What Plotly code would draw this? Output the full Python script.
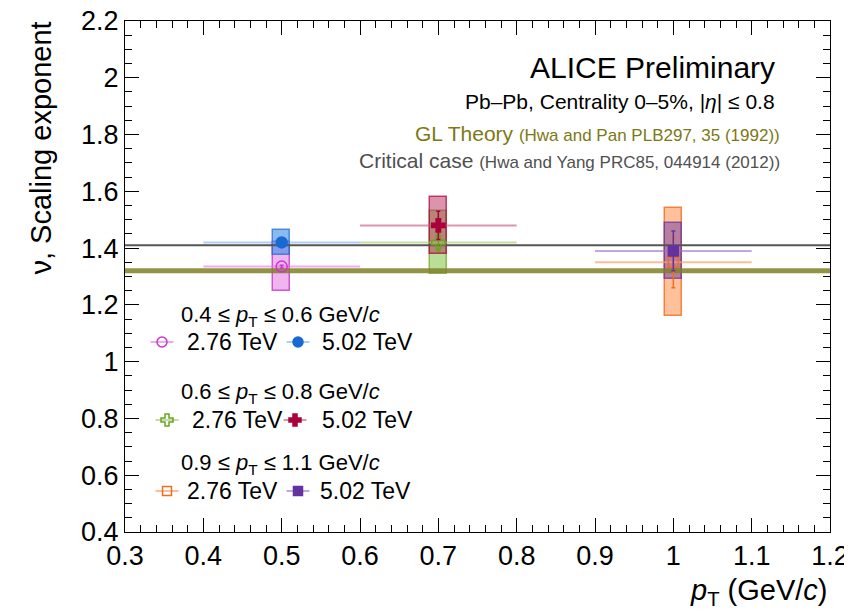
import plotly.graph_objects as go

# ---------------- data ----------------
pt_centers = [0.5, 0.5, 0.7, 0.7, 1.0, 1.0]
pt_halfwidth = [0.1, 0.1, 0.1, 0.1, 0.1, 0.1]
nu_values = [1.335, 1.42, 1.42, 1.48, 1.35, 1.39]
stat_errors = [0.005, 0.005, 0.03, 0.05, 0.09, 0.07]
sys_errors = [0.085, 0.045, 0.11, 0.10, 0.19, 0.10]
energies = ["2.76 TeV", "5.02 TeV", "2.76 TeV", "5.02 TeV", "2.76 TeV", "5.02 TeV"]
pt_bins = ["0.4 ≤ <i>p</i><sub>T</sub> ≤ 0.6 GeV/<i>c</i>",
           "0.6 ≤ <i>p</i><sub>T</sub> ≤ 0.8 GeV/<i>c</i>",
           "0.9 ≤ <i>p</i><sub>T</sub> ≤ 1.1 GeV/<i>c</i>"]
gl_theory_nu = 1.32
critical_nu = 1.41
x_range = [0.3, 1.2]
y_range = [0.4, 2.2]
x_ticks = [0.3, 0.4, 0.5, 0.6, 0.7, 0.8, 0.9, 1.0, 1.1, 1.2]
x_ticklabels = ["0.3", "0.4", "0.5", "0.6", "0.7", "0.8", "0.9", "1", "1.1", "1.2"]
y_ticks = [0.4, 0.6, 0.8, 1.0, 1.2, 1.4, 1.6, 1.8, 2.0, 2.2]
y_ticklabels = ["0.4", "0.6", "0.8", "1", "1.2", "1.4", "1.6", "1.8", "2", "2.2"]

# ---------------- style ----------------
FONT = "Liberation Sans, Arial, Helvetica, sans-serif"
line_cols = ["rgb(204,51,204)", "rgb(25,105,210)", "rgb(105,165,35)",
             "rgb(170,0,60)", "rgb(240,110,30)", "rgb(100,50,160)"]
fill_cols = ["rgba(225,120,225,0.55)", "rgba(60,140,230,0.6)", "rgba(140,200,80,0.6)",
             "rgba(185,40,90,0.5)", "rgba(255,150,90,0.6)", "rgba(110,60,165,0.5)"]
edge_cols = ["rgba(204,51,204,0.8)", "rgba(25,105,210,0.7)", "rgba(105,165,35,0.7)",
             "rgba(170,0,60,0.7)", "rgba(240,110,30,0.8)", "rgba(100,50,160,0.7)"]
xerr_cols = ["rgba(225,120,225,0.6)", "rgba(90,160,230,0.5)", "rgba(160,200,100,0.6)",
             "rgba(200,80,120,0.6)", "rgba(255,160,110,0.7)", "rgba(150,110,200,0.6)"]
symbols = ["circle-open", "circle", "cross-open", "cross", "square-open", "square"]
msizes = [11, 11, 11, 11, 10, 10]
box_halfwidth = 0.011

W, H = 852, 616
OFF = 8  # page body margin in the browser
L, R, T, B = 125, 830, 21, 532   # plot area in screenshot pixels

def px(x):
    return (x - L) / (R - L)

def py(y):
    return (B - y) / (B - T)

fig = go.Figure()

# systematic boxes
for i in range(len(pt_centers)):
    fig.add_trace(go.Bar(
        x=[pt_centers[i]], y=[2 * sys_errors[i]], base=[nu_values[i] - sys_errors[i]],
        width=box_halfwidth * 2,
        marker=dict(color=fill_cols[i], line=dict(color=edge_cols[i], width=1.5)),
        showlegend=False, hoverinfo="skip"))

# bin-width lines
for i in range(len(pt_centers)):
    fig.add_trace(go.Scatter(
        x=[pt_centers[i]], y=[nu_values[i]], mode="markers",
        marker=dict(size=1, color="rgba(0,0,0,0)"),
        error_x=dict(type="data", array=[pt_halfwidth[i]], width=0, thickness=2, color=xerr_cols[i]),
        showlegend=False, hoverinfo="skip"))

# theory lines
fig.add_trace(go.Scatter(x=x_range, y=[gl_theory_nu, gl_theory_nu], mode="lines",
                         line=dict(color="rgba(128,128,40,0.85)", width=5),
                         showlegend=False, hoverinfo="skip"))
fig.add_trace(go.Scatter(x=x_range, y=[critical_nu, critical_nu], mode="lines",
                         line=dict(color="rgb(85,85,85)", width=2),
                         showlegend=False, hoverinfo="skip"))

# points with statistical errors
for i in range(len(pt_centers)):
    fig.add_trace(go.Scatter(
        x=[pt_centers[i]], y=[nu_values[i]], mode="markers",
        marker=dict(symbol=symbols[i], size=msizes[i], color=line_cols[i],
                    line=dict(color=line_cols[i], width=1.5)),
        error_y=dict(type="data", array=[stat_errors[i]], width=2, thickness=1.5, color=line_cols[i]),
        showlegend=False))

# ---------------- custom legend ----------------
header_y = [316, 393, 464]
row_y = [342, 420, 491]
glyph_x = [[162, 298], [167, 295], [167, 298]]
text_x = [[185, 320], [190, 320], [185, 318]]
ann = []
for g in range(3):
    ann.append(dict(x=px(179), y=py(header_y[g]), xref="paper", yref="paper",
                    text=pt_bins[g], showarrow=False, xanchor="left", yanchor="middle",
                    font=dict(family=FONT, size=22, color="black")))
    for k in range(2):
        i = 2 * g + k
        fig.add_trace(go.Scatter(
            x=[px(glyph_x[g][k])], y=[py(row_y[g])], xaxis="x2", yaxis="y2",
            mode="markers", cliponaxis=False,
            marker=dict(symbol=symbols[i], size=msizes[i] - 1, color=line_cols[i],
                        line=dict(color=line_cols[i], width=1.5)),
            error_x=dict(type="data", array=[11.5 / (R - L)], width=0, thickness=2, color=xerr_cols[i]),
            showlegend=False, hoverinfo="skip"))
        ann.append(dict(x=px(text_x[g][k]), y=py(row_y[g]), xref="paper", yref="paper",
                        text=energies[i], showarrow=False, xanchor="left", yanchor="middle",
                        font=dict(family=FONT, size=23, color="black")))

# ---------------- header texts ----------------
ann += [
    dict(x=px(777), y=py(67), xref="paper", yref="paper", text="ALICE Preliminary",
         showarrow=False, xanchor="right", yanchor="middle",
         font=dict(family=FONT, size=30, color="black")),
    dict(x=px(777), y=py(101), xref="paper", yref="paper",
         text="Pb–Pb, Centrality 0–5%, |<i>η</i>| ≤ 0.8",
         showarrow=False, xanchor="right", yanchor="middle",
         font=dict(family=FONT, size=21, color="black")),
    dict(x=px(782), y=py(133), xref="paper", yref="paper",
         text="GL Theory <span style='font-size:17px'>(Hwa and Pan PLB297, 35 (1992))</span>",
         showarrow=False, xanchor="right", yanchor="middle",
         font=dict(family=FONT, size=21, color="rgb(125,120,20)")),
    dict(x=px(782), y=py(160), xref="paper", yref="paper",
         text="Critical case <span style='font-size:17px'>(Hwa and Yang PRC85, 044914 (2012))</span>",
         showarrow=False, xanchor="right", yanchor="middle",
         font=dict(family=FONT, size=21, color="rgb(80,80,80)")),
    # axis titles
    dict(x=px(830), y=py(592), xref="paper", yref="paper",
         text="<i>p</i><sub>T</sub> (GeV/<i>c</i>)",
         showarrow=False, xanchor="right", yanchor="middle",
         font=dict(family=FONT, size=29, color="black")),
    dict(x=px(40), y=py(20), xref="paper", yref="paper",
         text="ν, Scaling exponent", textangle=-90,
         showarrow=False, xanchor="center", yanchor="top",
         font=dict(family=FONT, size=29, color="black")),
]

axis_common = dict(showline=True, linecolor="black", linewidth=1, mirror="ticks",
                   ticks="inside", tickcolor="black", ticklen=14, tickwidth=1,
                   showgrid=False, zeroline=False, automargin=False,
                   ticklabeloverflow="allow",
                   tickfont=dict(family=FONT, size=27, color="black"))

fig.update_layout(
    width=W, height=H,
    margin=dict(l=L - OFF, r=W - R + OFF, t=T - OFF, b=H - B + OFF, autoexpand=False),
    paper_bgcolor="white", plot_bgcolor="white",
    barmode="overlay", bargap=0,
    showlegend=False,
    annotations=ann,
    xaxis=dict(range=x_range, tickvals=x_ticks, ticktext=x_ticklabels,
               minor=dict(ticks="inside", ticklen=7, dtick=0.02, tickcolor="black", showgrid=False),
               **axis_common),
    yaxis=dict(range=y_range, tickvals=y_ticks, ticktext=y_ticklabels,
               minor=dict(ticks="inside", ticklen=7, dtick=0.05, tickcolor="black", showgrid=False),
               **axis_common),
    xaxis2=dict(overlaying="x", range=[0, 1], visible=False, domain=[0, 1]),
    yaxis2=dict(overlaying="y", range=[0, 1], visible=False, domain=[0, 1]),
)

fig.write_html("out.html")
